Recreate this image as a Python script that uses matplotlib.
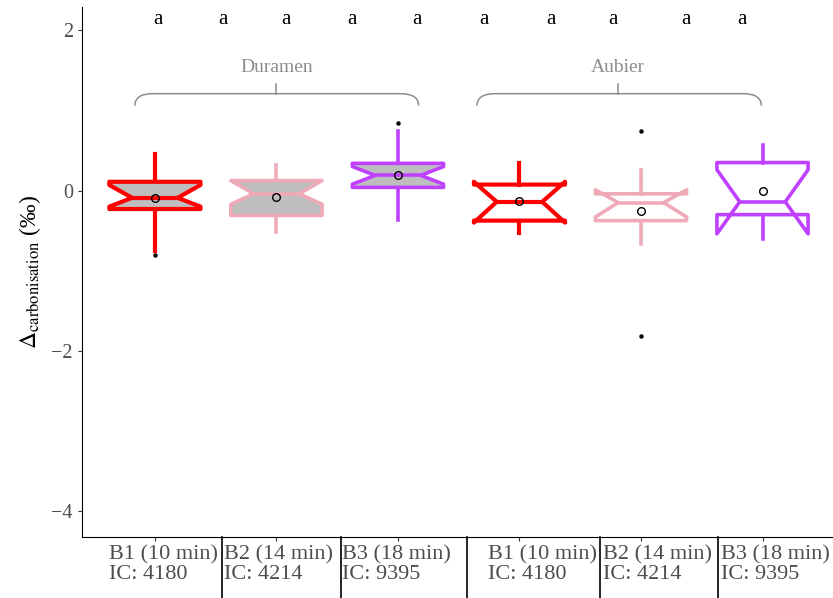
import matplotlib
matplotlib.use("Agg")
import matplotlib.pyplot as plt
from matplotlib.path import Path
from matplotlib.patches import PathPatch

plt.rcParams['font.family'] = ['Liberation Serif', 'DejaVu Serif']
plt.rcParams['mathtext.fontset'] = 'stix'

# boxes: Duramen B1..B3 then Aubier B1..B3
groups = ["Duramen", "Duramen", "Duramen", "Aubier", "Aubier", "Aubier"]
tick_labels = ["B1 (10 min)\nIC: 4180", "B2 (14 min)\nIC: 4214", "B3 (18 min)\nIC: 9395",
               "B1 (10 min)\nIC: 4180", "B2 (14 min)\nIC: 4214", "B3 (18 min)\nIC: 9395"]
medians = [-0.09, -0.04, 0.19, -0.14, -0.15, -0.14]
q1 = [-0.23, -0.31, 0.04, -0.375, -0.375, -0.30]
q3 = [0.11, 0.125, 0.34, 0.075, -0.04, 0.35]
ci_lo = [-0.20, -0.17, 0.08, -0.40, -0.33, -0.54]
ci_hi = [0.07, 0.125, 0.30, 0.11, 0.01, 0.26]
whisker_lo = [-0.76, -0.52, -0.37, -0.53, -0.67, -0.60]
whisker_hi = [0.46, 0.32, 0.74, 0.35, 0.26, 0.57]
means = [-0.09, -0.08, 0.19, -0.13, -0.26, -0.01]
outliers = [[-0.80], [], [0.84], [], [0.75, -1.81], []]
letters = ["a"] * 10

colors = ["#FF0000", "#EEAAB8", "#C040FF", "#FF0000", "#EEAAB8", "#C040FF"]
fills = ["#BEBEBE", "#BEBEBE", "#BEBEBE", "none", "none", "none"]
line_w = [3.0, 2.6, 2.6, 3.0, 2.6, 2.6]

fig = plt.figure(figsize=(8.33, 5.98), dpi=100)
ax = fig.add_axes([0.0984, 0.102, 0.9016, 0.886])

positions = list(range(1, len(medians) + 1))
stats = []
for i in range(len(medians)):
    stats.append(dict(med=medians[i], q1=q1[i], q3=q3[i], cilo=ci_lo[i], cihi=ci_hi[i],
                      whislo=whisker_lo[i], whishi=whisker_hi[i], mean=means[i],
                      fliers=outliers[i]))

bp = ax.bxp(stats, positions=positions, widths=0.75, shownotches=True, patch_artist=True,
            showmeans=True, showcaps=False,
            flierprops=dict(marker="o", markersize=2.2, markerfacecolor="black",
                            markeredgecolor="black"),
            meanprops=dict(marker="o", markersize=5.5, markerfacecolor="none",
                           markeredgecolor="black", markeredgewidth=1.0))

for i, c in enumerate(colors):
    box = bp["boxes"][i]
    box.set_facecolor(fills[i])
    box.set_edgecolor(c)
    box.set_linewidth(line_w[i])
    box.set_joinstyle("round")
    bp["medians"][i].set_color(c)
    bp["medians"][i].set_linewidth(line_w[i])
    for w in bp["whiskers"][2 * i:2 * i + 2]:
        w.set_color(c)
        w.set_linewidth(line_w[i])
        w.set_zorder(1)

ax.set_xlim(0.4, 6.58)
ax.set_ylim(-4.325, 2.29)
ax.set_yticks([-4, -2, 0, 2])
ax.set_yticklabels(["\u22124", "\u22122", "0", "2"])
ax.tick_params(axis="y", labelsize=14.5, labelcolor="#4D4D4D", length=3, color="#333333")
ax.set_xticks(positions)
ax.set_xticklabels([""] * len(positions))
ax.tick_params(axis="x", length=3, color="#333333")
ax.spines["top"].set_visible(False)
ax.spines["right"].set_visible(False)
ax.set_ylabel(r"$\Delta_{\mathrm{carbonisation}}$ (‰)", fontsize=17, labelpad=6)

# x labels, left aligned under each box
label_x = [0.62, 1.567, 2.538, 3.738, 4.684, 5.655]
for x, lab in zip(label_x, tick_labels):
    ax.text(x, -0.015, lab, transform=ax.get_xaxis_transform(), ha="left", va="top",
            fontsize=16, color="#4D4D4D", linespacing=1.08, clip_on=False)

# separators between the labels
sep_x = [1.55, 2.53, 3.57, 4.66, 5.63]
for x in sep_x:
    ax.plot([x, x], [0, -0.12], transform=ax.get_xaxis_transform(), color="black",
            lw=1.2, clip_on=False)

# letters on top
letter_x = [1.025, 1.56, 2.08, 2.62, 3.16, 3.71, 4.26, 4.77, 5.37, 5.83]
for x, l in zip(letter_x, letters):
    ax.text(x, 2.14, l, ha="center", va="center", fontsize=15, color="black")


def brace(x0, x1, xc, label):
    y_end, y_bar, y_tip, r = 1.06, 1.21, 1.33, 0.15
    verts = [(x0, y_end), (x0, y_bar), (x0 + r, y_bar), (x1 - r, y_bar),
             (x1, y_bar), (x1, y_end)]
    codes = [Path.MOVETO, Path.CURVE3, Path.CURVE3, Path.LINETO, Path.CURVE3, Path.CURVE3]
    ax.add_patch(PathPatch(Path(verts, codes), fill=False, edgecolor="#8C8C8C", lw=1.1))
    ax.plot([xc, xc], [y_bar, y_tip], color="#8C8C8C", lw=1.1)
    ax.text(xc, 1.54, label, ha="center", va="center", fontsize=14, color="#8C8C8C")


brace(0.835, 3.17, 2.0, "Duramen")
brace(3.65, 5.99, 4.81, "Aubier")

fig.savefig("out.png", dpi=100)
